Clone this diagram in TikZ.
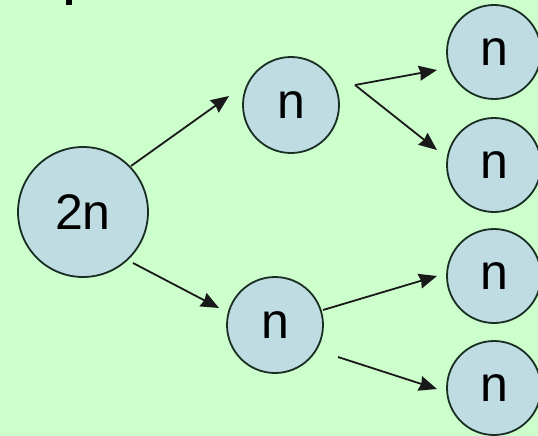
\documentclass[tikz,border=0pt]{standalone}
\usepackage{fontspec}
\setmainfont{Liberation Sans}
\usetikzlibrary{arrows.meta}
\definecolor{bgreen}{RGB}{204,255,204}
\definecolor{cfill}{RGB}{190,220,226}
\definecolor{cdraw}{RGB}{25,45,35}
\begin{document}
\begin{tikzpicture}[x=1pt,y=-1pt,
  circ/.style={circle,draw=cdraw,line width=1.8pt,fill=cfill,inner sep=0pt,font=\fontsize{50}{50}\selectfont},
  big/.style={circ,minimum size=130pt},
  mid/.style={circ,minimum size=96pt},
  leaf/.style={circ,minimum size=94pt},
  arr/.style={line width=1.8pt,draw=black!90,-{Stealth[length=18pt,width=15pt,inset=1.5pt]}}]
\fill[bgreen] (0,0) rectangle (538,436);
\useasboundingbox (0,0) rectangle (538,436);
\fill[black] (66,0) rectangle (72,5);
\node[big] (r) at (83,212) {2n};
\node[mid] (a) at (291,105) {n};
\node[mid] (b) at (275,325) {n};
\node[leaf] (a1) at (494,52) {n};
\node[leaf] (a2) at (494,165) {n};
\node[leaf] (b1) at (494,276) {n};
\node[leaf] (b2) at (494,388) {n};
\coordinate (s1) at (131,166);
\coordinate (e1) at (229,96);
\coordinate (s2) at (133,263);
\coordinate (e2) at (219,308);
\coordinate (s3) at (355,85);
\coordinate (e3) at (437,70);
\coordinate (e4) at (437,150);
\coordinate (s5) at (323,310);
\coordinate (e5) at (437,276);
\coordinate (s6) at (338,357);
\coordinate (e6) at (437,389);
\draw[arr] (s1) -- (e1);
\draw[arr] (s2) -- (e2);
\draw[arr] (s3) -- (e3);
\draw[arr] (s3) -- (e4);
\draw[arr] (s5) -- (e5);
\draw[arr] (s6) -- (e6);
\end{tikzpicture}
\end{document}
